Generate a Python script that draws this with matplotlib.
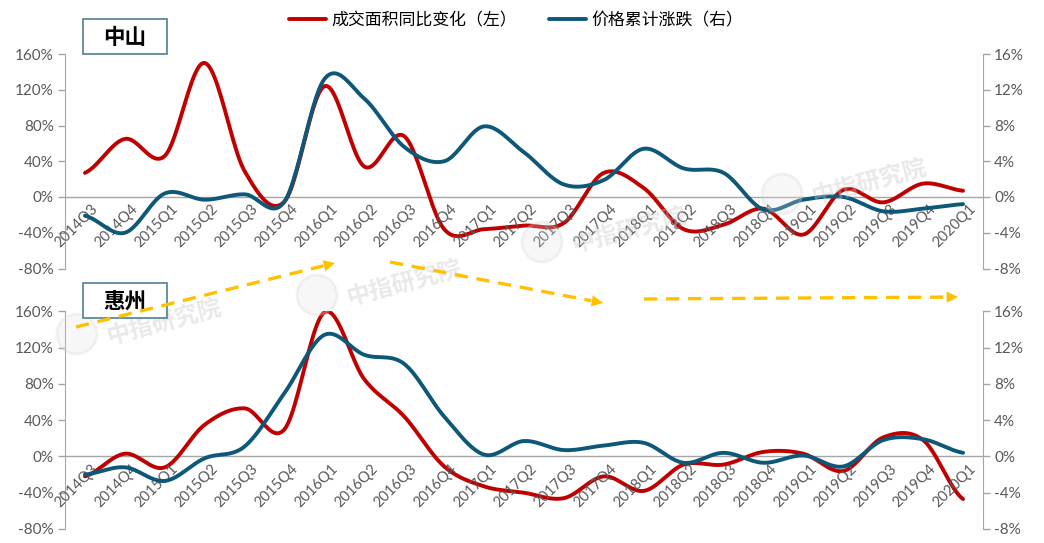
import numpy as np
import matplotlib.pyplot as plt
from matplotlib.lines import Line2D
from matplotlib.patches import Rectangle, Circle
import matplotlib.transforms as mtransforms

plt.rcParams['font.family'] = ['Noto Sans CJK SC', 'DejaVu Sans']

# quarters 2014Q3 .. 2020Q1
quarters = ['2014Q3', '2014Q4', '2015Q1', '2015Q2', '2015Q3', '2015Q4',
            '2016Q1', '2016Q2', '2016Q3', '2016Q4', '2017Q1', '2017Q2',
            '2017Q3', '2017Q4', '2018Q1', '2018Q2', '2018Q3', '2018Q4',
            '2019Q1', '2019Q2', '2019Q3', '2019Q4', '2020Q1']

# 中山
zs_area = [27, 65, 46, 150, 29, -5, 124, 34, 68, -36, -36, -32,
           -29, 27, 10, -36, -31, -13, -42, 8, -6, 15, 7]
zs_price = [-2.1, -4.0, 0.4, -0.3, 0.3, -0.5, 13.2, 11.0, 5.6, 4.0, 7.9, 5.0,
            1.4, 1.9, 5.4, 3.2, 2.7, -1.4, -0.3, 0.0, -1.6, -1.3, -0.8]

# 惠州
hz_area = [-22, 3, -12, 35, 53, 30, 159, 85, 44, -11, -33, -40,
           -46, -22, -38, -9, -9, 5, 3, -16, 21, 18, -47]
hz_price = [-2.0, -1.2, -2.7, -0.2, 1.1, 7.0, 13.4, 11.2, 10.2, 4.4, 0.2, 1.7,
            0.7, 1.2, 1.5, -0.7, 0.4, -0.7, 0.1, -1.1, 1.8, 1.9, 0.4]

red = '#C00000'
blue = '#0D5878'
grey = '#A6A6A6'
txt = '#595959'


def smooth(y, n=24):
    # Catmull-Rom style curve like Excel's smoothed line
    y = np.asarray(y, float)
    x = np.arange(len(y), dtype=float)
    xs, ys = [], []
    for i in range(len(y) - 1):
        p0 = y[i - 1] if i > 0 else y[i]
        p3 = y[i + 2] if i + 2 < len(y) else y[i + 1]
        p1, p2 = y[i], y[i + 1]
        c1 = p1 + (p2 - p0) / 6
        c2 = p2 - (p3 - p1) / 6
        t = np.linspace(0, 1, n, endpoint=False)
        b = (1 - t) ** 3 * p1 + 3 * (1 - t) ** 2 * t * c1 + 3 * (1 - t) * t ** 2 * c2 + t ** 3 * p2
        xs.append(x[i] + t)
        ys.append(b)
    xs.append([x[-1]])
    ys.append([y[-1]])
    return np.concatenate(xs), np.concatenate(ys)


fig = plt.figure(figsize=(10.44, 5.43), dpi=100)
W, H = 1044, 543


def panel(top, bottom, area, price):
    ax = fig.add_axes([65 / W, 1 - bottom / H, (983 - 65) / W, (bottom - top) / H])
    ax2 = ax.twinx()
    ax.set_xlim(-0.5, len(quarters) - 0.5)
    ax.set_ylim(-80, 160)
    ax2.set_ylim(-8, 16)
    ax.set_yticks(np.arange(-80, 161, 40))
    ax2.set_yticks(np.arange(-8, 17, 4))
    ax.set_yticklabels([f'{v}%' for v in range(-80, 161, 40)])
    ax2.set_yticklabels([f'{v}%' for v in range(-8, 17, 4)])
    ax.set_xticks([])
    for a in (ax, ax2):
        a.patch.set_visible(False)
        for s in ('top', 'bottom'):
            a.spines[s].set_visible(False)
        a.spines['left'].set_visible(a is ax)
        a.spines['right'].set_visible(a is ax2)
        a.spines['left'].set_color(grey)
        a.spines['right'].set_color(grey)
        a.tick_params(axis='y', colors=grey, labelcolor=txt, labelsize=11,
                      length=5, width=1, pad=3)
        for lb in a.get_yticklabels():
            lb.set_fontfamily('Lato')
    ax.axhline(0, color=grey, lw=1, zorder=1)
    xs, ys = smooth(area)
    l1, = ax.plot(xs, ys, color=red, lw=2.8, solid_capstyle='round', zorder=3)
    xs, ys = smooth(price)
    l2, = ax2.plot(xs, ys, color=blue, lw=2.8, solid_capstyle='round', zorder=3)
    off = mtransforms.offset_copy(ax.transData, fig=fig, x=6, y=-5, units='dots')
    for i, q in enumerate(quarters):
        ax.text(i, 0, q, transform=off, rotation=45, rotation_mode='anchor',
                ha='right', va='top', fontsize=10.5, color=txt, family='Lato')
    return ax, l1, l2


ax_a, l1, l2 = panel(54, 268.5, zs_area, zs_price)
ax_b, _, _ = panel(311.3, 529, hz_area, hz_price)

fig.legend([l1, l2], ['成交面积同比变化（左）', '价格累计涨跌（右）'],
           loc='center', bbox_to_anchor=(516 / W, 1 - 20 / H), ncol=2,
           frameon=False, fontsize=12.2, handlelength=2.2, columnspacing=1.9,
           handletextpad=0.3)

# overlay in pixel coords for decorations
ov2 = fig.add_axes([0, 0, 1, 1], zorder=5)
ov2.set_xlim(0, W)
ov2.set_ylim(H, 0)
ov2.axis('off')
ov2.patch.set_alpha(0)

# watermarks
for cx, cy in [(165, 322), (405, 283), (630, 230), (870, 182)]:
    ov2.add_patch(Circle((cx - 88, cy + 12), 20, facecolor='#E0E0E0',
                         edgecolor='#D0D0D0', lw=2, alpha=0.25, zorder=1))
    ov2.text(cx, cy, '中指研究院', fontsize=17, fontweight='bold', color='#C8C8C8',
             alpha=0.4, rotation=15, ha='center', va='center', zorder=1)

# city boxes
for (x0, y0, name) in [(83, 19, '中山'), (83, 283, '惠州')]:
    ov2.add_patch(Rectangle((x0, y0), 84, 35, facecolor='white',
                            edgecolor='#4E7F93', lw=1.2, zorder=2))
    ov2.text(x0 + 42, y0 + 18, name, fontsize=15.5, fontweight='bold',
             color='black', ha='center', va='center', zorder=2)

# trend arrows
yellow = '#FFC000'
for (x0, y0, x1, y1) in [(76, 327, 335, 263), (390, 262, 603, 303), (644, 299, 958, 297)]:
    d = np.hypot(x1 - x0, y1 - y0)
    ux, uy = (x1 - x0) / d, (y1 - y0) / d
    ov2.add_line(Line2D([x0, x1 - 12 * ux], [y0, y1 - 12 * uy], color=yellow, lw=2.4,
                        ls=(0, (4, 2.6)), zorder=3))
    ov2.annotate('', xy=(x1, y1), xytext=(x1 - 14 * ux, y1 - 14 * uy),
                 arrowprops=dict(arrowstyle='-|>,head_length=0.8,head_width=0.4',
                                 color=yellow, lw=0.1, shrinkA=0, shrinkB=0), zorder=3)

fig.savefig('out.png', dpi=100)
